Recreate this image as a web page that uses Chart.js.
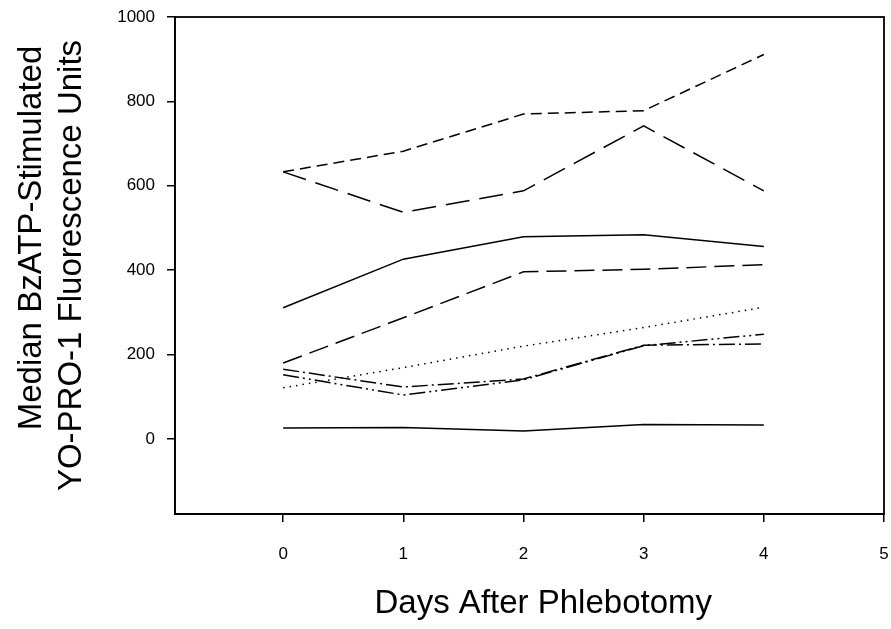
<!DOCTYPE html>
<html>
<head>
<meta charset="utf-8">
<script src="https://cdn.jsdelivr.net/npm/chart.js@4/dist/chart.umd.min.js"></script>
<style>
  html, body { margin: 0; padding: 0; background: #fff; }
  #wrap { width: 891px; height: 629px; }
</style>
</head>
<body>
<div id="wrap"><canvas id="myChart"></canvas></div>
<script>
// days after phlebotomy
const days = [0, 1, 2, 3, 4];
const xTicks = [0, 1, 2, 3, 4, 5];
const yTicks = [0, 200, 400, 600, 800, 1000];

// one line per subject
const shortDash = [633, 682, 770, 778, 911];
const longDash = [633, 537, 588, 742, 588];
const solidHigh = [311, 426, 479, 484, 456];
const mediumDash = [180, 287, 396, 402, 413];
const dotted = [121, 169, 220, 264, 312];
const dashDot = [165, 123, 142, 222, 225];
const dashDotDot = [152, 104, 140, 221, 248];
const solidLow = [26, 27, 19, 34, 33];

const FONT = "'Liberation Sans', Arial, Helvetica, sans-serif";

const makeLine = (label, values, dash) => ({
  label: label,
  data: days.map((d, i) => ({ x: d, y: values[i] })),
  borderColor: "#000",
  borderWidth: 1.5,
  borderDash: dash,
  pointRadius: 0,
  fill: false,
  tension: 0,
});

// closes the box on top and right like the original plot frame
const frame = {
  id: "frame",
  afterDraw(chart) {
    const { ctx, chartArea: a } = chart;
    ctx.save();
    ctx.strokeStyle = "#000";
    ctx.lineWidth = 1.8;
    ctx.strokeRect(a.left, a.top, a.right - a.left, a.bottom - a.top);
    ctx.restore();
  },
};

const ctx = document.getElementById("myChart").getContext("2d");
const myChart = new Chart(ctx, {
  type: "line",
  data: {
    datasets: [
      makeLine("A", shortDash, [11, 6]),
      makeLine("B", longDash, [24, 10]),
      makeLine("C", solidHigh, []),
      makeLine("D", mediumDash, [20, 8]),
      makeLine("E", dotted, [1.5, 5]),
      makeLine("F", dashDot, [16, 4, 2, 4]),
      makeLine("G", dashDotDot, [16, 4, 2, 4, 2, 4]),
      makeLine("H", solidLow, []),
    ],
  },
  options: {
    responsive: true,
    maintainAspectRatio: false,
    animation: false,
    layout: { padding: { top: 17, right: 7, bottom: 0, left: 0 } },
    plugins: {
      legend: { display: false },
      tooltip: { enabled: false },
    },
    scales: {
      x: {
        type: "linear",
        min: -0.9,
        max: 5,
        afterBuildTicks: (axis) => {
          axis.ticks = xTicks.map((v) => ({ value: v }));
        },
        afterFit: (axis) => {
          axis.height = 115;
          axis.paddingLeft = 0;
          axis.paddingRight = 0;
        },
        grid: {
          drawOnChartArea: false,
          drawTicks: true,
          tickLength: 8,
          color: "#000",
          lineWidth: 1.5,
        },
        border: { display: true, color: "#000", width: 1.8 },
        ticks: {
          color: "#000",
          padding: 22,
          maxRotation: 0,
          callback: (v) => String(v),
          font: { family: FONT, size: 17 },
        },
        title: {
          display: true,
          text: "   Days After Phlebotomy",
          color: "#000",
          padding: { top: 4, bottom: 5 },
          font: { family: FONT, size: 33, lineHeight: 1.2 },
        },
      },
      y: {
        min: -178,
        max: 1000,
        afterBuildTicks: (axis) => {
          axis.ticks = yTicks.map((v) => ({ value: v }));
        },
        afterFit: (axis) => {
          axis.width = 175;
          axis.paddingTop = 0;
          axis.paddingBottom = 0;
        },
        grid: {
          drawOnChartArea: false,
          drawTicks: true,
          tickLength: 8,
          color: "#000",
          lineWidth: 1.5,
        },
        border: { display: true, color: "#000", width: 1.8 },
        ticks: {
          color: "#000",
          padding: 12,
          callback: (v) => String(v),
          font: { family: FONT, size: 17 },
        },
        title: {
          display: true,
          text: ["      Median BzATP-Stimulated", "YO-PRO-1 Fluorescence Units"],
          color: "#000",
          padding: { top: 12, bottom: 4 },
          font: { family: FONT, size: 33, lineHeight: 1.212 },
        },
      },
    },
  },
  plugins: [frame],
});
</script>
</body>
</html>
